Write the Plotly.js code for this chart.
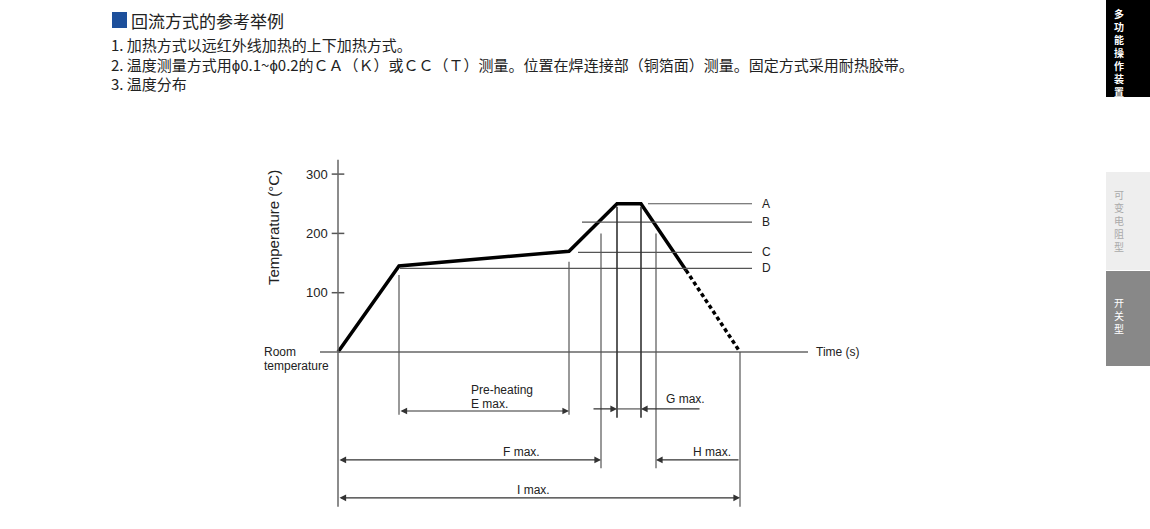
<!DOCTYPE html>
<html>
<head>
<meta charset="utf-8">
<script src="https://cdn.plot.ly/plotly-3.0.1.min.js"></script>
<style>html,body{margin:0;padding:0;background:#fff;}#chart{width:1150px;height:529px;}</style>
</head>
<body>
<div id="chart"></div>
<script>
// ---------------- data ----------------
// reflow profile (time in arbitrary s units, temperature in °C above room temperature)
const profileTime = [0, 30.5, 115.5, 139.5, 151.5, 174];
const profileTemp = [0, 145, 170, 250, 250, 138];
const coolTime = [174, 201];
const coolTemp = [138, 0];

const tempTicks = [100, 200, 300];
const tempTickLabels = ["100", "200", "300"];

// reference levels A-D
const levelNames = ["A", "B", "C", "D"];
const levelTemps = [250, 219, 168, 141];
const levelStarts = [155, 122, 120, 31];
const levelEnd = 207;

// vertical guide lines
const guideTimes = [30.5, 115.5, 131.5, 139.5, 151.5, 159, 201];
const guideTops = [130, 152, 200, 245, 245, 200, 0];
const guideBottoms = [-106, -106, -196, -111, -111, -196, -261];

// dimension labels
const dimNames = ["E", "G", "F", "H", "I"];

const title = "回流方式的参考举例";
const notes = [
  "1. 加热方式以远红外线加热的上下加热方式。",
  "2. 温度测量方式用\u03d50.1~\u03d50.2的ＣＡ（Ｋ）或ＣＣ（Ｔ）测量。位置在焊连接部（铜箔面）测量。固定方式采用耐热胶带。",
  "3. 温度分布"
];
const sideTabs = ["多功能操作装置", "可变电阻型", "开关型"];

// ---------------- drawing ----------------
const W = 1150, H = 529;
const px = v => v / W;             // paper x from pixel
const py = v => 1 - v / H;         // paper y from pixel
const thin = {color: "#555", width: 1.2};
const lab = {family: "Liberation Sans, Arial, sans-serif", size: 12, color: "#222"};
const cjk = "Noto Sans CJK SC, sans-serif";

const traces = [
  {x: profileTime, y: profileTemp, mode: "lines", line: {color: "#000", width: 3.5}, hoverinfo: "skip"},
  {x: coolTime, y: coolTemp, mode: "lines", line: {color: "#000", width: 3.5, dash: "4px,3px"}, hoverinfo: "skip"},
  // tick marks crossing the temperature axis
  {x: tempTicks.map(() => 0), y: tempTicks, mode: "markers",
   marker: {symbol: "line-ew", size: 9, line: {color: "#555", width: 1.5}}, hoverinfo: "skip"}
];

const shapes = [];
// temperature axis and time axis
shapes.push({type: "line", xref: "x", yref: "y", x0: 0, x1: 0, y0: 324, y1: -261, line: {color: "#666", width: 1.5}});
shapes.push({type: "line", xref: "x", yref: "y", x0: -9, x1: 235, y0: 0, y1: 0, line: {color: "#666", width: 1.5}});
levelNames.forEach((n, i) => {
  shapes.push({type: "line", xref: "x", yref: "y", x0: levelStarts[i], x1: levelEnd, y0: levelTemps[i], y1: levelTemps[i], line: thin});
});
guideTimes.forEach((t, i) => {
  const w = (i === 3 || i === 4) ? {color: "#333", width: 1.6} : thin;
  shapes.push({type: "line", xref: "x", yref: "y", x0: t, x1: t, y0: guideTops[i], y1: guideBottoms[i], line: w});
});
// G dimension baseline between the arrows
shapes.push({type: "line", xref: "x", yref: "y", x0: 139.5, x1: 151.5, y0: -96, y1: -96, line: thin});

// sidebar tabs
shapes.push({type: "rect", xref: "paper", yref: "paper", x0: px(1106), x1: 1, y0: py(0), y1: py(97), fillcolor: "#000", line: {width: 0}, layer: "below"});
shapes.push({type: "rect", xref: "paper", yref: "paper", x0: px(1106), x1: 1, y0: py(172), y1: py(270), fillcolor: "#eeeeee", line: {width: 0}, layer: "below"});
shapes.push({type: "rect", xref: "paper", yref: "paper", x0: px(1106), x1: 1, y0: py(271), y1: py(366), fillcolor: "#888888", line: {width: 0}, layer: "below"});
// title square
shapes.push({type: "rect", xref: "paper", yref: "paper", x0: px(112), x1: px(127), y0: py(12), y1: py(28), fillcolor: "#1d4f9b", line: {width: 0}});

const ann = [];
// tick labels
tempTicks.forEach((t, i) => ann.push({x: 0, y: t, xref: "x", yref: "y", text: tempTickLabels[i], showarrow: false,
  xanchor: "right", yanchor: "middle", xshift: -8, font: {family: lab.family, size: 13, color: "#222"}}));
ann.push({x: -32.5, y: 209, xref: "x", yref: "y", text: "Temperature (°C)", textangle: -90, showarrow: false,
  xanchor: "center", yanchor: "middle", font: {family: lab.family, size: 15, color: "#222"}});
ann.push({x: -38, y: 0, xref: "x", yref: "y", text: "Room", showarrow: false, xanchor: "left", yanchor: "middle", font: lab});
ann.push({x: -38, y: -24, xref: "x", yref: "y", text: "temperature", showarrow: false, xanchor: "left", yanchor: "middle", font: lab});
ann.push({x: 238, y: 0, xref: "x", yref: "y", text: "Time (s)", showarrow: false, xanchor: "left", yanchor: "middle", font: lab});
levelNames.forEach((n, i) => ann.push({x: 211, y: levelTemps[i], xref: "x", yref: "y", text: n, showarrow: false, xanchor: "left", yanchor: "middle", font: lab}));

// dimension arrows
function dim(x, y, ax, side) {
  ann.push({x: x, y: y, ax: ax, ay: y, xref: "x", yref: "y", axref: "x", ayref: "y", text: "", showarrow: true,
    arrowhead: 2, startarrowhead: 2, arrowside: side, arrowsize: 1.2, startarrowsize: 1.2, arrowwidth: 1.1, arrowcolor: "#333"});
}
dim(115.5, -99.5, 30.5, "end+start");   // E
dim(139.5, -96, 127, "end");            // G left
dim(151.5, -96, 181.5, "end");          // G right
dim(131.5, -182, 0, "end+start");       // F
dim(159, -182, 201, "end");             // H
dim(201, -246, 0, "end+start");         // I

ann.push({x: 65.5, y: -64, xref: "x", yref: "y", text: "Pre-heating", showarrow: false, xanchor: "left", yanchor: "middle", font: lab});
ann.push({x: 65.5, y: -88, xref: "x", yref: "y", text: dimNames[0] + " max.", showarrow: false, xanchor: "left", yanchor: "middle", font: lab});
ann.push({x: 163, y: -79, xref: "x", yref: "y", text: dimNames[1] + " max.", showarrow: false, xanchor: "left", yanchor: "middle", font: lab});
ann.push({x: 91.5, y: -169, xref: "x", yref: "y", text: dimNames[2] + " max.", showarrow: false, xanchor: "center", yanchor: "middle", font: lab});
ann.push({x: 176.5, y: -169, xref: "x", yref: "y", text: dimNames[3] + " max.", showarrow: false, xanchor: "left", yanchor: "middle", font: lab});
ann.push({x: 97.5, y: -233, xref: "x", yref: "y", text: dimNames[4] + " max.", showarrow: false, xanchor: "center", yanchor: "middle", font: lab});

// header text
ann.push({x: px(129), y: py(20), xref: "paper", yref: "paper", text: title, showarrow: false, xanchor: "left", yanchor: "middle",
  font: {family: cjk, size: 17, color: "#222"}});
ann.push({x: px(109), y: py(64.5), xref: "paper", yref: "paper", text: notes.join("<br>"), showarrow: false,
  xanchor: "left", yanchor: "middle", align: "left", font: {family: cjk, size: 15, color: "#222"}});

// sidebar vertical text (one stacked text per tab)
const tabCenter = [52, 220.5, 315];
const tabColor = ["#fff", "#aaaaaa", "#fff"];
sideTabs.forEach((s, k) => {
  const stacked = Array.from(s).join("<br>");
  ann.push({x: px(1119), y: py(tabCenter[k]), xref: "paper", yref: "paper",
    text: k === 0 ? "<b>" + stacked + "</b>" : stacked, showarrow: false, xanchor: "center", yanchor: "middle",
    align: "center", font: {family: cjk, size: 10, color: tabColor[k]}});
});

const layout = {
  width: W, height: H,
  margin: {l: 0, r: 0, t: 0, b: 0},
  paper_bgcolor: "#fff", plot_bgcolor: "#fff",
  showlegend: false,
  xaxis: {range: [-169, 406], visible: false, fixedrange: true},
  yaxis: {range: [-298.5, 593.6], visible: false, fixedrange: true},
  shapes: shapes,
  annotations: ann
};
Plotly.newPlot("chart", traces, layout, {staticPlot: true, displayModeBar: false});
</script>
</body>
</html>
